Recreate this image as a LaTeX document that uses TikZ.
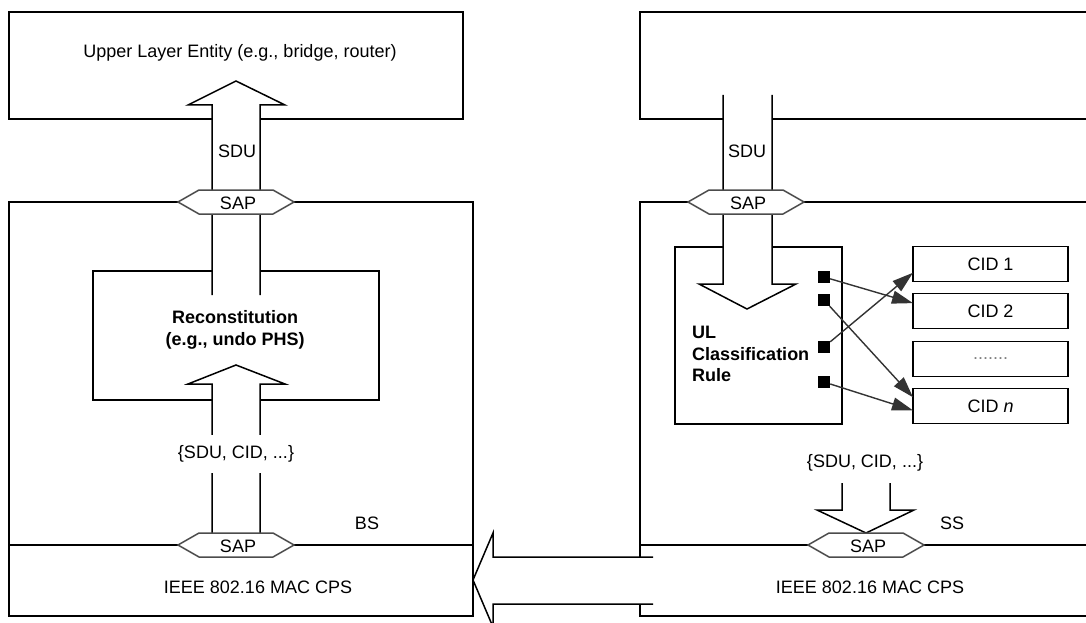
\documentclass[tikz,border=0pt]{standalone}
\usepackage{fontspec}
\setmainfont{Liberation Sans}
\usetikzlibrary{arrows.meta,calc}
\begin{document}
\begin{tikzpicture}[x=1pt,y=-1pt,
  box/.style={draw=black,line width=1.7pt},
  blockarrow/.style={fill=white,draw=black,line width=1.5pt,line join=miter},
  lbl/.style={inner sep=0pt,font=\fontsize{18}{21.5}\selectfont},
  blbl/.style={inner sep=0pt,font=\fontsize{18}{21.5}\selectfont\bfseries},
  cidbox/.style={draw=black,line width=1.7pt,minimum width=155pt,minimum height=35pt,inner sep=0pt,outer sep=0pt,font=\fontsize{18}{21.5}\selectfont},
  sq/.style={fill=black,inner sep=0pt,minimum size=12pt},
  cidarrow/.style={draw=black!80,line width=1.4pt,-{Triangle[length=21pt,width=13pt]}},
  sap/.pic={
    \path[fill=white,draw=gray!60!black,line width=1.5pt]
      (-58,0) -- (-37,-12) -- (37,-12) -- (58,0) -- (37,12) -- (-37,12) -- cycle;
    \node[inner sep=0pt,font=\fontsize{18}{21.5}\selectfont] (-t) at (2,1) {SAP};
  }
]
\useasboundingbox (0,0) rectangle (1086,623);
\clip (0,0) rectangle (1086,623);
\fill[white] (0,0) rectangle (1086,623);

% ---------- boxes ----------
\draw[box] (9,12) rectangle (463,119);
\draw[box] (9,202) rectangle (473,616);
\draw[box] (9,545) -- (473,545);
\draw[box] (93,271) rectangle (379,400);

\draw[box] (640,12) rectangle (1100,119);
\draw[box] (640,202) rectangle (1100,616);
\draw[box] (640,545) -- (1100,545);
\draw[box] (675,247) rectangle (842,424);

\node[cidbox] (cid1) at (990.5,264) {CID 1};
\node[cidbox] (cid2) at (990.5,311) {CID 2};
\node[cidbox] (cid3) at (990.5,359) {\textcolor{gray}{.......}};
\node[cidbox] (cidn) at (990.5,406) {CID \textit{n}};

% ---------- block arrows ----------
\path[blockarrow] (212,295) -- (212,105) -- (188,105) -- (236,81) -- (285,105) -- (260,105) -- (260,295);
\path[blockarrow] (212,545) -- (212,384) -- (188,384) -- (236,365) -- (285,384) -- (260,384) -- (260,545);
\path[blockarrow] (723,95) -- (723,284) -- (699,284) -- (747,309) -- (796,284) -- (772,284) -- (772,95);
\path[blockarrow] (842,483) -- (842,510) -- (817,510) -- (866,533) -- (914,510) -- (890,510) -- (890,483);
\path[blockarrow] (653,557) -- (493,557) -- (493,533) -- (473,580) -- (493,627) -- (493,604) -- (653,604);

% ---------- SAPs ----------
\pic (sapA) at (236,202) {sap};
\pic (sapB) at (746,202) {sap};
\pic (sapC) at (236,545) {sap};
\pic (sapD) at (866,545) {sap};

% ---------- texts ----------
\node[lbl] (ule) at (240,53) {Upper Layer Entity (e.g., bridge, router)};
\node[lbl] (sdu1) at (237,151) {SDU};
\node[lbl] (sdu2) at (747,151) {SDU};
\node[blbl,align=center] (recon) at (235,330) {Reconstitution\\(e.g., undo PHS)};
\node[lbl,fill=white,minimum height=38pt,inner xsep=2pt] (tupl1) at (236,454) {\{SDU, CID, ...\}};
\node[lbl] (tupl2) at (865,463) {\{SDU, CID, ...\}};
\node[lbl] (bs) at (367,523) {BS};
\node[lbl] (ss) at (952,523) {SS};
\node[lbl] (mac1) at (258,587) {IEEE 802.16 MAC CPS};
\node[lbl] (mac2) at (870,587) {IEEE 802.16 MAC CPS};
\node[blbl,align=left,anchor=west] (ulc) at (692,354) {UL\\Classification\\Rule};

% ---------- classification outputs ----------
\node[sq] (s1) at (824,277) {};
\node[sq] (s2) at (824,300) {};
\node[sq] (s3) at (824,347) {};
\node[sq] (s4) at (824,382) {};
\draw[cidarrow] (s1) -- ($(cid2.west)!0.45!(cid2.north west)$);
\draw[cidarrow] (s2) -- ($(cidn.west)!0.5!(cidn.north west)$);
\draw[cidarrow] (s3) -- ($(cid1.west)!0.5!(cid1.south west)$);
\draw[cidarrow] (s4) -- ($(cidn.west)!0.25!(cidn.south west)$);
\end{tikzpicture}
\end{document}
